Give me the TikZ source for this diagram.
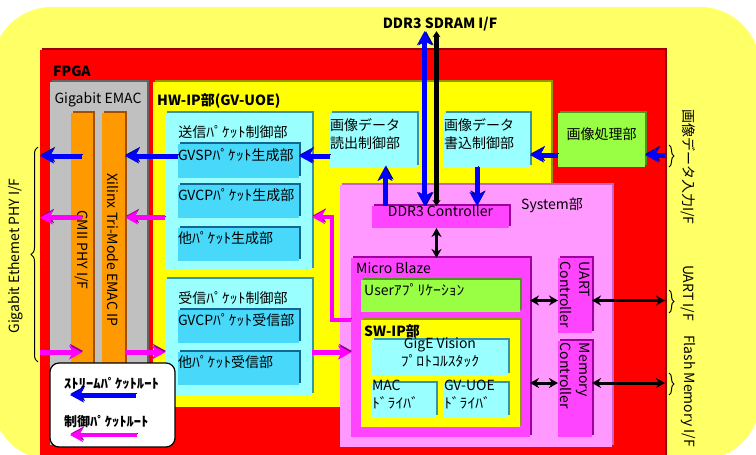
\documentclass[tikz,border=0pt]{standalone}
\usepackage{fontspec}
\setmainfont{Noto Sans CJK JP}
\newfontfamily\hkfont[FakeStretch=1.12]{Noto Sans CJK JP}
\newcommand\hk[1]{{\hkfont #1}}
\usetikzlibrary{shadows,arrows.meta,fit,decorations.pathreplacing}
\definecolor{outery}{RGB}{255,255,102}
\definecolor{fpgared}{RGB}{255,0,0}
\definecolor{fpgadk}{RGB}{150,0,0}
\definecolor{emacgray}{RGB}{192,192,192}
\definecolor{emacdk}{RGB}{100,100,100}
\definecolor{orng}{RGB}{255,153,0}
\definecolor{orngdk}{RGB}{160,80,0}
\definecolor{hwy}{RGB}{255,255,0}
\definecolor{hwydk}{RGB}{150,150,0}
\definecolor{lcyan}{RGB}{153,255,255}
\definecolor{lcyandk}{RGB}{51,150,170}
\definecolor{bcyan}{RGB}{72,216,250}
\definecolor{bcyandk}{RGB}{20,100,150}
\definecolor{grn}{RGB}{153,255,68}
\definecolor{grndk}{RGB}{80,150,30}
\definecolor{pnk}{RGB}{255,153,255}
\definecolor{pnkdk}{RGB}{200,100,200}
\definecolor{mag}{RGB}{255,68,255}
\definecolor{magdk}{RGB}{160,0,160}
\definecolor{arrblue}{RGB}{0,0,255}
\definecolor{arrbluedk}{RGB}{0,0,120}
\definecolor{arrmag}{RGB}{255,0,255}
\definecolor{arrmagdk}{RGB}{140,0,140}
\begin{document}
\begin{tikzpicture}[x=1pt,y=-1pt,
  font=\fontsize{14}{18}\selectfont,
  bx/.style={inner sep=0pt, outer sep=0pt},
  sh/.style={general shadow={fill=#1, shadow xshift=2pt, shadow yshift=2pt}},
  lbl/.style={inner sep=0pt, anchor=west},
  blbl/.style={inner sep=0pt, anchor=west, font=\fontsize{14}{18}\selectfont\bfseries},
  barrow/.style={draw=arrblue, line width=5pt, -{Stealth[length=14pt,width=15pt,inset=4pt]},
    preaction={draw=arrbluedk, transform canvas={shift={(1pt,1.5pt)}}}},
  bdarrow/.style={draw=arrblue, line width=5pt, {Stealth[length=14pt,width=15pt,inset=4pt]}-{Stealth[length=14pt,width=15pt,inset=4pt]},
    preaction={draw=arrbluedk, transform canvas={shift={(1.5pt,0pt)}}}},
  marrow/.style={draw=arrmag, line width=4.5pt, -{Stealth[length=13pt,width=14pt,inset=4pt]},
    preaction={draw=arrmagdk, transform canvas={shift={(1pt,1.5pt)}}}},
  karrow/.style={draw=black, line width=3pt, {Stealth[length=9pt,width=10pt]}-{Stealth[length=9pt,width=10pt]}},
  kbrace/.style={draw=black, line width=1pt, decorate, decoration={brace, amplitude=#1}},
]
\useasboundingbox (0,0) rectangle (756,455);
\clip (0,0) rectangle (756,455);
\fill[outery, rounded corners=60pt] (-8,7) rectangle (760,460);

% FPGA
\node[bx, fill=fpgared, sh=fpgadk, fit={(40,50)(665,465)}] (fpga) {};
\node[blbl] (fpgalab) at (53,71) {FPGA};

% Gigabit EMAC
\node[bx, fill=emacgray, sh=emacdk, fit={(50,82)(147,445)}] (emac) {};
\node[inner sep=0pt] (emaclab) at (98,100) {Gigabit EMAC};
\node[bx, fill=orng, sh=orngdk, fit={(71,113)(93,445)}] (gmii) {};
\node[inner sep=0pt, rotate=-90] (gmiilab) at (82,250) {GMII PHY I/F};
\node[bx, fill=orng, sh=orngdk, fit={(102,113)(125,445)}] (temac) {};
\node[inner sep=0pt, rotate=-90] (temaclab) at (113,250) {Xilinx Tri-Mode EMAC IP};

% HW-IP
\node[bx, fill=hwy, sh=hwydk, fit={(153,82)(551,407)}] (hwip) {};
\node[blbl] (hwiplab) at (157,101) {HW-IP部(GV-UOE)};

\node[bx, fill=lcyan, sh=lcyandk, fit={(165,113)(312,270)}] (txctl) {};
\node[inner sep=0pt] (txlab) at (233,132) {送信\hk{ﾊﾟｹｯﾄ}制御部};
\node[bx, fill=bcyan, sh=bcyandk, fit={(175,144)(302,178)}, text width=121pt, align=left] (gvsp) {GVSP\hk{ﾊﾟｹｯﾄ}生成部};
\node[bx, fill=bcyan, sh=bcyandk, fit={(175,185)(302,218)}, text width=121pt, align=left] (gvcpg) {GVCP\hk{ﾊﾟｹｯﾄ}生成部};
\node[bx, fill=bcyan, sh=bcyandk, fit={(175,228)(302,261)}, text width=121pt, align=left] (otherg) {他\hk{ﾊﾟｹｯﾄ}生成部};

\node[bx, fill=lcyan, sh=lcyandk, fit={(165,279)(312,395)}] (rxctl) {};
\node[inner sep=0pt] (rxlab) at (233,298) {受信\hk{ﾊﾟｹｯﾄ}制御部};
\node[bx, fill=bcyan, sh=bcyandk, fit={(175,310)(302,343)}, text width=121pt, align=left] (gvcpr) {GVCP\hk{ﾊﾟｹｯﾄ}受信部};
\node[bx, fill=bcyan, sh=bcyandk, fit={(175,352)(302,385)}, text width=121pt, align=left] (otherr) {他\hk{ﾊﾟｹｯﾄ}受信部};

\node[bx, fill=lcyan, sh=lcyandk, fit={(330,113)(417,167)}, align=left] (rd) {画像データ\\読出制御部};
\node[bx, fill=lcyan, sh=lcyandk, fit={(444,113)(530,167)}, align=left] (wr) {画像データ\\書込制御部};
\node[bx, fill=grn, sh=grndk, fit={(558,113)(645,167)}] (proc) {画像処理部};

% System
\node[bx, fill=pnk, sh=pnkdk, fit={(340,185)(612,447)}] (sys) {};
\node[lbl] (syslab) at (521,205) {System部};
\node[bx, fill=mag, sh=magdk, fit={(372,206)(509,228)}] (ddr) {DDR3 Controller};
\node[bx, fill=mag, sh=magdk, fit={(351,258)(530,437)}] (mb) {};
\node[lbl] (mblab) at (356,268) {Micro Blaze};
\node[bx, fill=grn, sh=grndk, fit={(361,280)(520,312)}] (user) {};
\node[lbl] (userlab) at (364,290) {User\hk{ｱﾌﾟﾘｹｰｼｮﾝ}};
\node[bx, fill=hwy, sh=hwydk, fit={(361,320)(520,427)}] (swip) {};
\node[blbl] (swiplab) at (364,331) {SW-IP部};
\node[bx, fill=lcyan, sh=lcyandk, fit={(372,340)(508,375)}] (gige) {GigE Vision\\\hk{ﾌﾟﾛﾄｺﾙｽﾀｯｸ}};
\node[bx, fill=lcyan, sh=lcyandk, fit={(372,383)(436,417)}, align=left] (macdrv) {MAC\\\hk{ﾄﾞﾗｲﾊﾞ}};
\node[bx, fill=lcyan, sh=lcyandk, fit={(444,383)(508,417)}, align=left] (uoedrv) {GV-UOE\\\hk{ﾄﾞﾗｲﾊﾞ}};
\node[bx, fill=mag, sh=magdk, fit={(558,258)(592,333)}] (uart) {};
\node[inner sep=0pt, rotate=-90, align=left, font=\fontsize{14}{19}\selectfont] (uartlab) at (575,295) {UART\\Controller};
\node[bx, fill=mag, sh=magdk, fit={(558,341)(592,437)}] (mem) {};
\node[inner sep=0pt, rotate=-90, align=left, font=\fontsize{14}{19}\selectfont] (memlab) at (575,376) {Memory\\Controller};

% external labels
\node[inner sep=0pt, font=\fontsize{14}{18}\selectfont\bfseries] (ddrlab) at (440,24) {DDR3 SDRAM I/F};
\node[inner sep=0pt, rotate=-90] (imglab) at (688,167) {画像データ入力I/F};
\node[inner sep=0pt, rotate=-90] (uartif) at (688,293) {UART I/F};
\node[inner sep=0pt, rotate=-90] (flashif) at (688,391) {Flash Memory I/F};
\node[inner sep=0pt, rotate=90] (gbelab) at (16,256) {Gigabit Ethemet PHY I/F};

% braces
\draw[kbrace=5pt] (669,145) -- (669,167);
\draw[kbrace=5pt] (669,290) -- (669,313);
\draw[kbrace=5pt] (669,373) -- (669,395);
\draw[kbrace=7pt] (38,362) -- (38,147);

% blue stream arrows
\draw[barrow] ([yshift=5pt]gvsp.west) -- ([yshift=5pt]gvsp.west -| temac.east);
\draw[barrow] ([yshift=5pt]gvsp.west -| gmii.center) -- ([yshift=5pt]gvsp.west -| fpga.west);
\draw[barrow] ([yshift=5pt]gvsp.east -| rd.west) -- ([yshift=5pt]gvsp.east);
\draw[barrow] ([xshift=13pt]ddr.north west) -- ([xshift=13pt]ddr.north west |- rd.south);
\draw[barrow] ([xshift=-10pt]wr.south) -- ([xshift=-10pt]wr.south |- ddr.north);
\draw[barrow] ([yshift=-15pt]proc.west) -- ([yshift=-15pt]proc.west -| wr.east);
\draw[barrow] ([yshift=-15pt]proc.east -| fpga.east) -- ([yshift=-15pt]proc.east);
\draw[bdarrow] ([xshift=-16pt]ddr.north) -- ([xshift=-16pt]ddr.north |- ddrlab.south);
\draw[karrow, line width=4.5pt, {Stealth[length=6pt,width=8pt]}-{Stealth[length=6pt,width=8pt]}] ([xshift=-4pt]ddr.north) -- ([xshift=-4pt]ddr.north |- ddrlab.south);

% magenta control arrows
\coordinate (mbendA) at (332,320);
\coordinate (mbendB) at (332,217);
\draw[marrow] ([yshift=-16pt]gvcpg.west -| txctl.west) -- ([yshift=-16pt]gvcpg.west -| temac.east);
\draw[marrow] ([yshift=-16pt]gvcpg.west -| gmii.center) -- ([yshift=-16pt]gvcpg.west -| fpga.west);
\draw[marrow] (mbendA -| mb.west) -- (mbendA) -- (mbendB) -- (mbendB -| txctl.east);
\draw[marrow] ([yshift=16pt]otherr.west -| fpga.west) -- ([yshift=16pt]otherr.west -| gmii.center);
\draw[marrow] ([yshift=16pt]otherr.west -| temac.east) -- ([yshift=16pt]otherr.west -| rxctl.west);
\draw[marrow] ([yshift=16pt]otherr.east -| rxctl.east) -- ([yshift=16pt]otherr.east -| mb.west);

% black arrows
\draw[karrow] ([xshift=-4pt]ddr.south) -- ([xshift=-4pt]ddr.south |- mb.north);
\draw[karrow] ([yshift=-5pt]uart.west -| mb.east) -- ([yshift=-5pt]uart.west);
\draw[karrow] ([yshift=-5pt]uart.east) -- ([yshift=-5pt]uart.east -| fpga.east);
\draw[karrow] ([yshift=6pt]mem.west -| mb.east) -- ([yshift=6pt]mem.west);
\draw[karrow] ([yshift=6pt]mem.east) -- ([yshift=6pt]mem.east -| fpga.east);

% legend
\node[bx, draw=black, line width=1.2pt, fill=white, rounded corners=9pt, fit={(50,363)(175,447)}] (legend) {};
\node[lbl, font=\fontsize{13}{15}\selectfont\bfseries] (lgs) at (64,383) {\hk{ｽﾄﾘｰﾑﾊﾟｹｯﾄﾙｰﾄ}};
\node[lbl, font=\fontsize{13}{15}\selectfont\bfseries] (lgc) at (64,422) {制御\hk{ﾊﾟｹｯﾄﾙｰﾄ}};
\coordinate (lgsA) at (136,395);
\coordinate (lgsB) at (70,395);
\coordinate (lgcA) at (137,435);
\coordinate (lgcB) at (70,435);
\draw[barrow] (lgsA) -- (lgsB);
\draw[marrow] (lgcA) -- (lgcB);
\end{tikzpicture}
\end{document}
